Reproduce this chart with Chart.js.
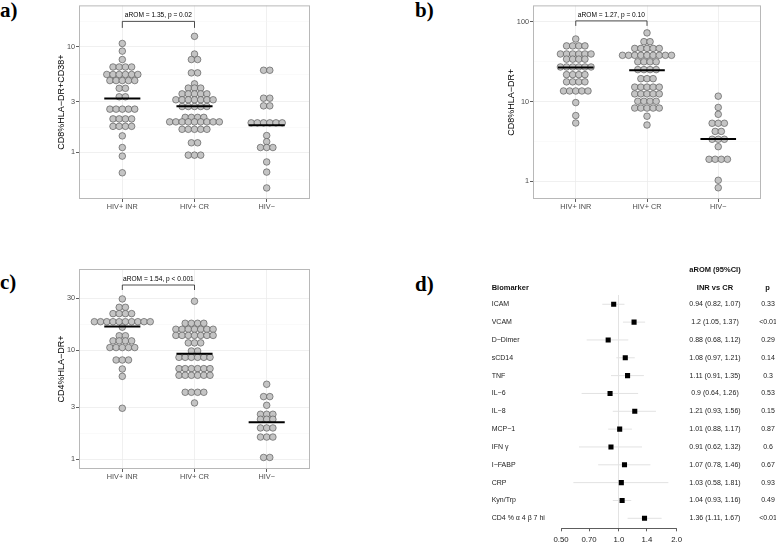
<!DOCTYPE html>
<html>
<head>
<meta charset="utf-8">
<script src="https://cdn.jsdelivr.net/npm/chart.js@4.4.0/dist/chart.umd.min.js"></script>
<style>
  body { margin: 0; background: #fff; width: 776px; height: 544px; overflow: hidden; position: relative; }
  canvas { position: absolute; }
  .tag { position: absolute; font: bold 21px 'Liberation Serif', serif; line-height: 1; color: #000; }
</style>
</head>
<body>
<div class="tag" style="left:0;top:0">a)</div>
<div class="tag" style="left:415px;top:0">b)</div>
<div class="tag" style="left:0;top:272px">c)</div>
<div class="tag" style="left:415px;top:274px">d)</div>
<canvas id="pa" width="320" height="230" style="left:0;top:0"></canvas>
<canvas id="pb" width="356" height="230" style="left:420px;top:0"></canvas>
<canvas id="pc" width="320" height="240" style="left:0;top:260px"></canvas>
<canvas id="pd" width="376" height="284" style="left:400px;top:260px"></canvas>
<script>
// Dot plots (a-c) + forest plot (d)

const cats = ['HIV+ INR', 'HIV+ CR', 'HIV−'];

// a) CD8%HLA-DR+CD38+
const aINR = [10.7, 9.06, 7.54, 6.41, 6.41, 6.41, 6.41, 5.45, 5.45, 5.45, 5.45, 5.45, 5.45,
  4.77, 4.77, 4.77, 4.77, 4.77, 4.03, 4.03, 3.35, 3.35, 2.56, 2.56, 2.56, 2.56, 2.56,
  2.07, 2.07, 2.07, 2.07, 1.76, 1.76, 1.76, 1.76, 1.43, 1.11, 0.92, 0.64];
const aCR = [12.5, 8.5, 7.54, 7.54, 5.64, 5.64, 4.44, 4.05, 4.05, 4.05, 3.57, 3.57, 3.57, 3.57, 3.57,
  3.14, 3.14, 3.14, 3.14, 3.14, 3.14, 3.14, 2.71, 2.71, 2.71, 2.71, 2.71, 2.14, 2.14, 2.14, 2.14,
  1.94, 1.94, 1.94, 1.94, 1.94, 1.94, 1.94, 1.94, 1.94, 1.65, 1.65, 1.65, 1.65, 1.65,
  1.23, 1.23, 0.94, 0.94, 0.94];
const aNEG = [5.97, 5.97, 3.25, 3.25, 2.75, 2.75, 1.9, 1.9, 1.9, 1.9, 1.9, 1.9, 1.44, 1.26,
  1.11, 1.11, 1.11, 0.81, 0.65, 0.46];
const aMedian = [3.23, 2.73, 1.8];
const aMajor = [1, 3, 10];
const aMinor = [0.548, 1.732, 5.477, 17.32];

// b) CD8%HLA-DR+
const bINR = [61, 50, 50, 50, 50, 39.6, 39.6, 39.6, 39.6, 39.6, 39.6, 34.1, 34.1, 34.1, 34.1,
  27.2, 27.2, 27.2, 27.2, 27.2, 27.2, 21.8, 21.8, 21.8, 21.8, 17.7, 17.7, 17.7, 17.7,
  13.6, 13.6, 13.6, 13.6, 13.6, 9.72, 6.68, 5.39];
const bCR = [72.8, 56.5, 56.5, 46.5, 46.5, 46.5, 46.5, 46.5, 38.1, 38.1, 38.1, 38.1, 38.1, 38.1, 38.1, 38.1, 38.1,
  31.6, 31.6, 31.6, 31.6, 25.2, 25.2, 25.2, 25.2, 19.4, 19.4, 19.4, 15.2, 15.2, 15.2, 15.2, 15.2,
  12.5, 12.5, 12.5, 12.5, 12.5, 10.1, 10.1, 10.1, 10.1, 8.3, 8.3, 8.3, 8.3, 8.3, 6.56, 5.09];
const bNEG = [11.7, 8.45, 6.93, 5.35, 5.35, 5.35, 4.23, 4.23, 3.37, 3.37, 3.37, 2.72,
  1.89, 1.89, 1.89, 1.89, 1.03, 0.83];
const bMedian = [26.7, 24.8, 3.4];
const bMajor = [1, 10, 100];
const bMinor = [3.162, 31.62];

// c) CD4%HLA-DR+
const cINR = [29.6, 24.8, 24.8, 21.7, 21.7, 21.7, 21.7, 18.3, 18.3, 18.3, 18.3, 18.3, 18.3, 18.3, 18.3, 18.3, 18.3,
  16.3, 13.6, 13.6, 12.2, 12.2, 12.2, 12.2, 10.6, 10.6, 10.6, 10.6, 10.6, 8.15, 8.15, 8.15, 6.74, 5.77, 2.94];
const cCR = [28.2, 17.7, 17.7, 17.7, 17.7, 15.6, 15.6, 15.6, 15.6, 15.6, 15.6, 15.6,
  13.7, 13.7, 13.7, 13.7, 13.7, 13.7, 13.7, 11.7, 11.7, 11.7, 9.86, 9.86,
  8.62, 8.62, 8.62, 8.62, 8.62, 8.62, 6.79, 6.79, 6.79, 6.79, 6.79, 6.79,
  5.9, 5.9, 5.9, 5.9, 5.9, 5.9, 4.12, 4.12, 4.12, 4.12, 3.29];
const cNEG = [4.88, 3.76, 3.76, 3.13, 2.59, 2.59, 2.59, 2.33, 2.33, 2.33, 1.94, 1.94, 1.94,
  1.6, 1.6, 1.6, 1.04, 1.04];
const cMedian = [16.5, 9.32, 2.19];
const cMajor = [1, 3, 10, 30];
const cMinor = [1.732, 5.477, 17.32];

// d) forest plot
const markers = ['ICAM', 'VCAM', 'D−Dimer', 'sCD14', 'TNF', 'IL−6', 'IL−8', 'MCP−1', 'IFN γ',
  'I−FABP', 'CRP', 'Kyn/Trp', 'CD4 % α 4 β 7 hi'];
const est = [0.94, 1.2, 0.88, 1.08, 1.11, 0.9, 1.21, 1.01, 0.91, 1.07, 1.03, 1.04, 1.36];
const lo = [0.82, 1.05, 0.68, 0.97, 0.91, 0.64, 0.93, 0.88, 0.62, 0.78, 0.58, 0.93, 1.11];
const hi = [1.07, 1.37, 1.12, 1.21, 1.35, 1.26, 1.56, 1.17, 1.32, 1.46, 1.81, 1.16, 1.67];
const pval = ['0.33', '<0.01', '0.29', '0.14', '0.3', '0.53', '0.15', '0.87', '0.6', '0.67', '0.93', '0.49', '<0.01'];
const forestTicks = [0.5, 0.7, 1, 1.4, 2];
const forestTickLabels = ['0.50', '0.70', '1.0', '1.4', '2.0'];

Chart.defaults.font.family = "'Liberation Sans', Arial, sans-serif";
Chart.defaults.animation = false;
Chart.defaults.events = [];

const DX = 0.086; // horizontal dot spacing (category units)

// stack equal values side by side, centred on the category
function swarm(values, g) {
  const rows = new Map();
  values.forEach(v => rows.set(v, (rows.get(v) || 0) + 1));
  const pts = [];
  rows.forEach((k, v) => {
    for (let j = 0; j < k; j++) pts.push({ x: g + 1 + (j - (k - 1) / 2) * DX, y: v });
  });
  return pts;
}

const panelBox = {
  id: 'panelBox',
  afterDatasetsDraw(chart, args, opts) {
    const { ctx, chartArea: a, scales: { x } } = chart;
    ctx.save();
    ctx.strokeStyle = '#b8b8b8';
    ctx.lineWidth = 1;
    ctx.strokeRect(a.left + 0.5, a.top + 0.5, a.width - 1, a.height - 1);
    if (opts.text) {
      const x1 = x.getPixelForValue(1), x2 = x.getPixelForValue(2);
      ctx.strokeStyle = '#222';
      ctx.lineWidth = 0.8;
      ctx.beginPath();
      ctx.moveTo(x1, a.top + opts.tipY);
      ctx.lineTo(x1, a.top + opts.lineY);
      ctx.lineTo(x2, a.top + opts.lineY);
      ctx.lineTo(x2, a.top + opts.tipY);
      ctx.stroke();
      ctx.fillStyle = '#000';
      ctx.font = "6.6px 'Liberation Sans', Arial, sans-serif";
      ctx.textAlign = 'center';
      ctx.textBaseline = 'middle';
      ctx.fillText(opts.text, (x1 + x2) / 2, a.top + opts.textY);
    }
    ctx.restore();
  }
};

function dotPanel(id, groups, medians, major, minor, yMin, yMax, title, note, geo) {
  const dots = [];
  groups.forEach((vals, g) => dots.push(...swarm(vals, g)));
  const med = [];
  medians.forEach((m, g) => {
    med.push({ x: g + 0.75, y: m }, { x: g + 1.25, y: m }, { x: g + 1.3, y: null });
  });
  const allTicks = major.concat(minor).sort((p, q) => p - q);
  const isMajor = v => major.includes(v);

  return new Chart(document.getElementById(id), {
    type: 'scatter',
    data: {
      datasets: [
        { type: 'line', data: med, borderColor: '#000', borderWidth: 2, pointRadius: 0, spanGaps: false, order: 0 },
        { data: dots, pointRadius: 3.3, backgroundColor: '#c4c4c4', borderColor: '#4a4a4a', borderWidth: 0.6, order: 1 }
      ]
    },
    plugins: [panelBox],
    options: {
      responsive: false,
      layout: { padding: { left: geo.padLeft, top: geo.padTop, right: geo.padRight, bottom: 0 } },
      plugins: { legend: { display: false }, tooltip: { enabled: false }, panelBox: note },
      scales: {
        x: {
          type: 'linear', min: 0.4, max: 3.6,
          afterBuildTicks: s => { s.ticks = [1, 2, 3].map(v => ({ value: v })); },
          afterFit: s => { s.height = geo.axisH; },
          ticks: { callback: v => cats[v - 1], color: '#4d4d4d', font: { size: 7.3 }, padding: 1, autoSkip: false, maxRotation: 0 },
          grid: { color: '#ececec', lineWidth: 0.8, tickColor: '#333', tickLength: 3 },
          border: { display: false }
        },
        y: {
          type: 'logarithmic', min: yMin, max: yMax,
          afterBuildTicks: s => { s.ticks = allTicks.map(v => ({ value: v })); },
          afterFit: s => { s.width = geo.axisW; },
          ticks: { callback: v => (isMajor(v) ? String(v) : ''), color: '#4d4d4d', font: { size: 7.3 }, padding: 1, autoSkip: false },
          grid: {
            color: c => (c.tick && isMajor(c.tick.value) ? '#ececec' : '#f5f5f5'),
            lineWidth: c => (c.tick && isMajor(c.tick.value) ? 0.8 : 0.5),
            tickColor: c => (c.tick && isMajor(c.tick.value) ? '#333' : 'rgba(0,0,0,0)'),
            tickLength: 3
          },
          border: { display: false },
          title: { display: true, text: title, color: '#000', font: { size: 9 }, padding: 0 }
        }
      }
    }
  });
}

dotPanel('pa', [aINR, aCR, aNEG], aMedian, aMajor, aMinor, 0.3616, 24.53, 'CD8%HLA−DR+CD38+',
  { text: 'aROM = 1.35, p = 0.02', textY: 10, lineY: 16, tipY: 22.5 },
  { padLeft: 56, axisW: 23, padRight: 10, padTop: 0, axisH: 31 });

dotPanel('pb', [bINR, bCR, bNEG], bMedian, bMajor, bMinor, 0.6034, 161.2, 'CD8%HLA−DR+',
  { text: 'aROM = 1.27, p = 0.10', textY: 9.5, lineY: 15.5, tipY: 20.5 },
  { padLeft: 86.3, axisW: 26.7, padRight: 15, padTop: 0, axisH: 31 });

dotPanel('pc', [cINR, cCR, cNEG], cMedian, cMajor, cMinor, 0.815, 55.7, 'CD4%HLA−DR+',
  { text: 'aROM = 1.54, p < 0.001', textY: 10, lineY: 16, tipY: 21 },
  { padLeft: 56, axisW: 23, padRight: 10, padTop: 9, axisH: 31 });

// forest plot
const forestText = {
  id: 'forestText',
  afterDraw(chart) {
    const { ctx, scales: { y } } = chart;
    const ox = 400, oy = 260; // canvas offset on the page
    ctx.save();
    ctx.fillStyle = '#111';
    ctx.textBaseline = 'middle';
    ctx.font = "bold 7.5px 'Liberation Sans', Arial, sans-serif";
    ctx.textAlign = 'left';
    ctx.fillText('Biomarker', 491.7 - ox, 287.5 - oy);
    ctx.textAlign = 'center';
    ctx.fillText('aROM (95%CI)', 715 - ox, 270 - oy);
    ctx.fillText('INR vs CR', 715 - ox, 288 - oy);
    ctx.fillText('p', 767.5 - ox, 288 - oy);
    ctx.font = "7px 'Liberation Sans', Arial, sans-serif";
    ctx.fillStyle = '#222';
    est.forEach((v, i) => {
      const py = y.getPixelForValue(i);
      ctx.fillText(v + ' (' + lo[i] + ', ' + hi[i] + ')', 715 - ox, py);
      ctx.fillText(pval[i], 768 - ox, py);
    });
    ctx.restore();
  }
};

const ciPts = [];
lo.forEach((l, i) => { ciPts.push({ x: l, y: i }, { x: hi[i], y: i }, { x: hi[i], y: null }); });

new Chart(document.getElementById('pd'), {
  type: 'scatter',
  data: {
    datasets: [
      { data: est.map((v, i) => ({ x: v, y: i })), pointStyle: 'rect', pointRadius: 3.6, backgroundColor: '#000', borderWidth: 0, order: 0 },
      { type: 'line', data: ciPts, borderColor: '#e2e2e2', borderWidth: 1, pointRadius: 0, spanGaps: false, order: 1 }
    ]
  },
  plugins: [forestText],
  options: {
    responsive: false,
    layout: { padding: { left: 91.7, top: 35, right: 99.3, bottom: 0 } },
    plugins: { legend: { display: false }, tooltip: { enabled: false } },
    scales: {
      x: {
        type: 'logarithmic', min: 0.5, max: 2,
        afterBuildTicks: s => { s.ticks = forestTicks.map(v => ({ value: v })); },
        afterFit: s => { s.height = 15.7; },
        ticks: { callback: v => forestTickLabels[forestTicks.indexOf(v)], color: '#222', font: { size: 7.8 }, padding: 4, autoSkip: false, maxRotation: 0 },
        grid: { color: c => (c.tick && c.tick.value === 1 ? '#dcdcdc' : 'rgba(0,0,0,0)'), lineWidth: 0.8, tickColor: '#333', tickLength: 3 },
        border: { display: true, color: '#333', width: 0.8 }
      },
      y: {
        type: 'linear', reverse: true, min: -0.52, max: 12.56,
        afterBuildTicks: s => { s.ticks = markers.map((m, i) => ({ value: i })); },
        afterFit: s => { s.width = 69.3; },
        ticks: { callback: v => markers[v], crossAlign: 'far', color: '#222', font: { size: 7 }, autoSkip: false },
        grid: { display: false },
        border: { display: false }
      }
    }
  }
});
</script>
</body>
</html>
